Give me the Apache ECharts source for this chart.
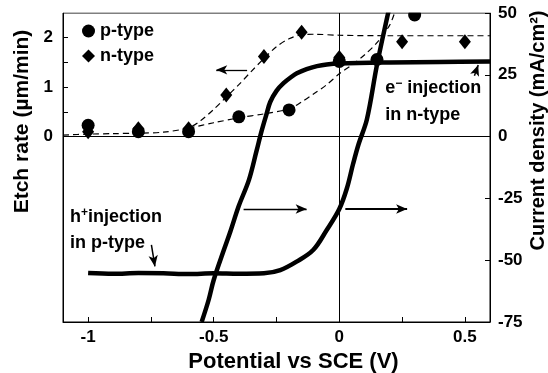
<!DOCTYPE html>
<html>
<head>
<meta charset="utf-8">
<script src="https://cdn.jsdelivr.net/npm/echarts@6/dist/echarts.min.js"></script>
<style>
  html, body { margin: 0; padding: 0; background: #fff; }
  #chart { width: 548px; height: 373px; }
</style>
</head>
<body>
<div id="chart"></div>
<script>
// Etch rate (µm/min) measured at each potential (V vs SCE)
const potentialP = [-1, -0.8, -0.6, -0.4, -0.2, 0, 0.15, 0.3];
const etchP      = [0.23, 0.1, 0.1, 0.4, 0.54, 1.52, 1.56, 2.46];
const potentialN = [-1, -0.8, -0.6, -0.45, -0.3, -0.15, 0, 0.25, 0.5];
const etchN      = [0.1, 0.16, 0.16, 0.84, 1.62, 2.11, 1.6, 1.92, 1.92];

// Dashed guide curves through the etch-rate points
const guideNx = [-1.1, -1.0, -0.9, -0.8, -0.7, -0.6, -0.55, -0.5, -0.45, -0.4, -0.35, -0.3, -0.25, -0.2, -0.15, -0.1, 0, 0.2, 0.4, 0.6];
const guideNy = [0.03, 0.05, 0.06, 0.07, 0.09, 0.18, 0.33, 0.55, 0.8, 1.05, 1.32, 1.58, 1.82, 1.98, 2.06, 2.07, 2.05, 2.04, 2.04, 2.04];
const guidePx = [-0.6, -0.5, -0.4, -0.3, -0.2, -0.15, -0.1, -0.05, 0, 0.05, 0.1, 0.15, 0.2, 0.22];
const guidePy = [0.17, 0.28, 0.38, 0.46, 0.56, 0.7, 0.87, 1.05, 1.27, 1.45, 1.65, 1.9, 2.25, 2.5];

// Current density (mA/cm²) sweeps
const ivNx = [-0.548, -0.52, -0.5, -0.46, -0.434, -0.4, -0.36, -0.33, -0.31, -0.29, -0.275, -0.25, -0.222, -0.19, -0.169, -0.13, -0.089, -0.05, 0, 0.2, 0.4, 0.6];
const ivNy = [-75, -66, -58, -46, -38.5, -28, -17.6, -6, 2, 9, 14, 18.5, 21.6, 24.2, 25.6, 27.3, 28.5, 29.2, 29.6, 30, 30.2, 30.4];
const ivPx = [-1.0, -0.9, -0.8, -0.7, -0.6, -0.5, -0.4, -0.3, -0.235, -0.17, -0.104, -0.05, 0, 0.03, 0.055, 0.077, 0.11, 0.15, 0.19, 0.197];
const ivPy = [-55.2, -55.5, -55.2, -55.3, -55.6, -55.3, -55.5, -55.3, -54, -50.6, -45.9, -37.8, -29.3, -21, -11, -3, 7, 29, 48, 51];

// Axis ticks
const xLabels      = [-1, -0.5, 0, 0.5];
const xTicks       = [-1, -0.75, -0.5, -0.25, 0, 0.25, 0.5];
const etchLabels   = [0, 1, 2];
const etchTicks    = [0, 0.5, 1, 1.5, 2];

const pairs = (xs, ys) => xs.map((x, i) => [x, ys[i]]);

const FONT = '"Liberation Sans", Arial, sans-serif';
const txt = (size) => ({ fontFamily: FONT, fontSize: size, fontWeight: 'bold', color: '#000' });
const rich = {
  t: { fontFamily: FONT, fontSize: 18, fontWeight: 'bold', color: '#000', lineHeight: 21 },
  s: { fontFamily: FONT, fontSize: 12, fontWeight: 'bold', color: '#000', lineHeight: 10, verticalAlign: 'top' }
};
const note = (x, y, formatter) => ({
  coord: [x, y],
  symbolSize: 0,
  label: { show: true, position: 'right', distance: 0, formatter, rich }
});
const arrow = (x1, y1, x2, y2, w) => [
  { coord: [x1, y1], lineStyle: { width: w || 1.3 } },
  { coord: [x2, y2] }
];

const chart = echarts.init(document.getElementById('chart'), null, { renderer: 'canvas' });

chart.setOption({
  animation: false,
  backgroundColor: '#fff',
  textStyle: { fontFamily: FONT },
  grid: {
    left: 63, right: 58, top: 13, bottom: 51,
    outerBoundsMode: 'none', containLabel: false,
    show: true, borderColor: '#000', borderWidth: 1
  },
  legend: {
    data: ['p-type', 'n-type'],
    orient: 'vertical',
    left: 77, top: 17,
    itemWidth: 13, itemHeight: 13, itemGap: 7,
    textStyle: txt(18),
    selectedMode: false
  },
  xAxis: {
    type: 'value', min: -1.1, max: 0.6,
    name: 'Potential vs SCE (V)', nameLocation: 'middle', nameGap: 25,
    nameTextStyle: Object.assign(txt(22), { padding: [0, 0, 0, 34] }),
    axisLine: { onZero: false, lineStyle: { color: '#000', width: 1 } },
    axisTick: { inside: true, length: 5, customValues: xTicks, lineStyle: { color: '#000' } },
    axisLabel: Object.assign(txt(17), { margin: 7, customValues: xLabels }),
    splitLine: { show: false }
  },
  yAxis: [
    {
      type: 'value', min: -3.75, max: 2.5, position: 'left',
      name: 'Etch rate (µm/min)', nameLocation: 'middle', nameRotate: 90, nameGap: 30,
      nameTextStyle: Object.assign(txt(21), { padding: [0, 0, 0, 92] }),
      axisLine: { show: true, onZero: false, lineStyle: { color: '#000', width: 1 } },
      axisTick: { show: true, inside: true, length: 5, customValues: etchTicks, lineStyle: { color: '#000' } },
      axisLabel: Object.assign(txt(17), { margin: 10, customValues: etchLabels }),
      splitLine: { show: false }
    },
    {
      type: 'value', min: -75, max: 50, interval: 25, position: 'right',
      name: 'Current density (mA/cm²)', nameLocation: 'middle', nameRotate: 90, nameGap: 38,
      nameMoveOverlap: false,
      nameTextStyle: Object.assign(txt(20), { padding: [0, 0, 0, 74] }),
      axisLine: { show: true, onZero: false, lineStyle: { color: '#000', width: 1 } },
      axisTick: { show: true, inside: true, length: 5, lineStyle: { color: '#000' } },
      axisLabel: Object.assign(txt(17), { margin: 8 }),
      splitLine: { show: false }
    }
  ],
  series: [
    {
      name: 'n-type guide', type: 'line', yAxisIndex: 0,
      data: pairs(guideNx, guideNy),
      showSymbol: false, smooth: 0.3,
      lineStyle: { color: '#000', width: 1.2, type: [6, 4] },
      markLine: {
        silent: true, symbol: ['none', 'arrow'], symbolSize: [7, 11],
        label: { show: false },
        lineStyle: { color: '#000', type: 'solid' },
        data: [arrow(-0.367, 1.35, -0.49, 1.35)]
      },
      z: 3
    },
    {
      name: 'p-type guide', type: 'line', yAxisIndex: 0,
      data: pairs(guidePx, guidePy),
      showSymbol: false, smooth: 0.3,
      lineStyle: { color: '#000', width: 1.2, type: [6, 4] },
      z: 3
    },
    {
      name: 'n-type current', type: 'line', yAxisIndex: 1,
      data: pairs(ivNx, ivNy),
      showSymbol: false, smooth: 0.35,
      lineStyle: { color: '#000', width: 4.5, join: 'round' },
      markLine: {
        silent: true, symbol: 'none',
        label: { show: false },
        lineStyle: { color: '#000', type: 'solid', width: 1 },
        data: [{ yAxis: 0 }, { xAxis: 0 }]
      },
      markPoint: {
        silent: true, symbol: 'circle', symbolSize: 0,
        itemStyle: { color: 'rgba(0,0,0,0)' },
        data: [
          note(0.183, 19.7, '{t|e}{s|−}{t| injection}'),
          note(0.183, 8.7, '{t|in n-type}'),
          note(-1.072, -32.5, '{t|h}{s|+}{t|injection}'),
          note(-1.072, -43, '{t|in p-type}')
        ]
      },
      z: 4
    },
    {
      name: 'p-type current', type: 'line', yAxisIndex: 1,
      data: pairs(ivPx, ivPy),
      showSymbol: false, smooth: 0.35,
      lineStyle: { color: '#000', width: 4.5, join: 'round' },
      markLine: {
        silent: true, symbol: ['none', 'arrow'], symbolSize: [7, 11],
        label: { show: false },
        lineStyle: { color: '#000', type: 'solid' },
        data: [
          arrow(-0.381, -29.3, -0.13, -29.3),
          arrow(0.024, -29.3, 0.27, -29.3, 1.8),
          arrow(0.538, 24.6, 0.553, 29.0, 1.5),
          arrow(-0.748, -43.8, -0.734, -52.5, 1.5)
        ]
      },
      z: 4
    },
    {
      name: 'p-type', type: 'scatter', yAxisIndex: 0,
      data: pairs(potentialP, etchP),
      symbol: 'circle', symbolSize: 13,
      itemStyle: { color: '#000', opacity: 1 }, z: 6
    },
    {
      name: 'n-type', type: 'scatter', yAxisIndex: 0,
      data: pairs(potentialN, etchN),
      symbol: 'diamond', symbolSize: [12, 15],
      itemStyle: { color: '#000', opacity: 1 }, z: 6
    }
  ],
  graphic: [
    // keeps marks that sit on the top edge inside the frame
    { type: 'rect', left: 60, top: 0, shape: { width: 432, height: 12.5 }, style: { fill: '#fff' }, z: 100 }
  ]
});
</script>
</body>
</html>
